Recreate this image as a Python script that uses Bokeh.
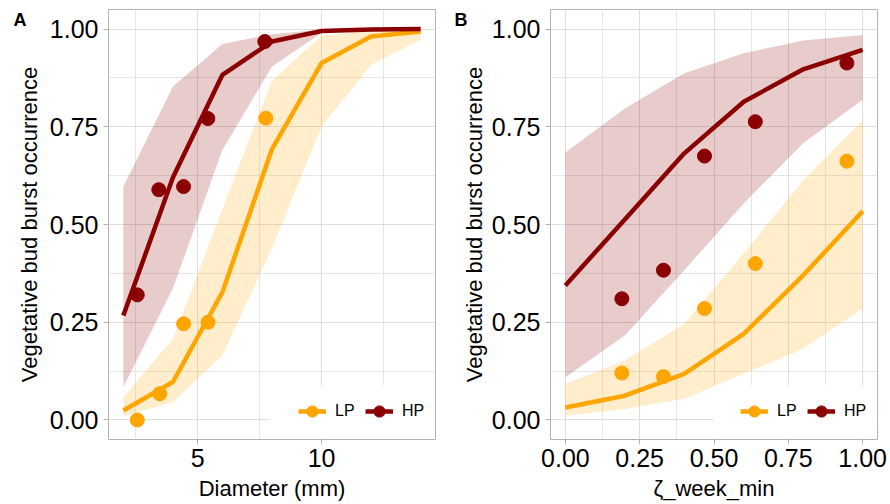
import math
from bokeh.plotting import figure
from bokeh.models import (Range1d, FixedTicker, NumeralTickFormatter, Label,
                          Legend, LegendItem, BoxAnnotation)
from bokeh.layouts import row
from bokeh.embed import file_html
from bokeh.resources import INLINE

FONT = "Liberation Sans"
HP_COLOR = "#8B0000"
LP_COLOR = "#FFA500"

# ---------------- Panel A : Diameter (mm) ----------------
A_x = [2, 4, 6, 8, 10, 12, 14]
A_LP_fit = [0.024, 0.097, 0.327, 0.693, 0.913, 0.981, 0.994]
A_LP_lo = [0.011, 0.045, 0.165, 0.44, 0.75, 0.908, 0.973]
A_LP_hi = [0.058, 0.207, 0.54, 0.868, 0.983, 0.997, 0.999]
A_HP_fit = [0.267, 0.62, 0.883, 0.968, 0.995, 0.999, 1.0]
A_HP_lo = [0.084, 0.336, 0.691, 0.904, 0.99, 0.999, 1.0]
A_HP_hi = [0.597, 0.853, 0.962, 0.987, 0.999, 1.0, 1.0]
A_LP_pt_x = [2.56, 3.47, 4.43, 5.42, 7.75]
A_LP_pt_y = [0.0, 0.067, 0.246, 0.25, 0.772]
A_HP_pt_x = [2.56, 3.43, 4.43, 5.41, 7.71]
A_HP_pt_y = [0.32, 0.589, 0.597, 0.771, 0.968]

# ---------------- Panel B : zeta_week_min ----------------
B_x = [0.0, 0.2, 0.4, 0.6, 0.8, 1.0]
B_LP_fit = [0.032, 0.062, 0.118, 0.22, 0.37, 0.534]
B_LP_lo = [0.011, 0.028, 0.054, 0.118, 0.182, 0.285]
B_LP_hi = [0.092, 0.152, 0.246, 0.426, 0.613, 0.767]
B_HP_fit = [0.344, 0.513, 0.682, 0.814, 0.897, 0.947]
B_HP_lo = [0.109, 0.216, 0.383, 0.554, 0.708, 0.819]
B_HP_hi = [0.684, 0.797, 0.887, 0.938, 0.971, 0.985]
B_pt_x = [0.19, 0.33, 0.468, 0.639, 0.947]
B_LP_pt_y = [0.12, 0.111, 0.285, 0.40, 0.662]
B_HP_pt_y = [0.31, 0.383, 0.675, 0.763, 0.913]

Y_TICKS = [0.0, 0.25, 0.5, 0.75, 1.0]
Y_MINOR = [0.125, 0.375, 0.625, 0.875]
A_TICKS = [5, 10]
A_MINOR = [2.5, 7.5, 12.5]
B_TICKS = [0.0, 0.25, 0.5, 0.75, 1.0]
B_MINOR = [0.125, 0.375, 0.625, 0.875]

Y_TITLE = "Vegetative bud burst occurrence"


def panel(letter, letter_x, ytitle_standoff, xtitle, xr, xticks, xminor, xfmt,
          xgrid, series, box_left, width, min_left, min_right):
    p = figure(width=width, height=504, x_range=Range1d(*xr),
               y_range=Range1d(-0.05, 1.05), output_backend="svg",
               toolbar_location=None, min_border_left=min_left,
               min_border_right=min_right, min_border_top=9,
               min_border_bottom=65)
    p.background_fill_color = "white"
    p.border_fill_color = "white"
    p.outline_line_color = "#B3B3B3"
    p.outline_line_width = 1

    for ax, ticks, minor, fmt in ((p.xaxis[0], xticks, xminor, xfmt),
                                  (p.yaxis[0], Y_TICKS, Y_MINOR, "0.00")):
        ax.ticker = FixedTicker(ticks=ticks, minor_ticks=minor)
        ax.formatter = NumeralTickFormatter(format=fmt)
        ax.axis_line_color = None
        ax.major_tick_line_color = "#B3B3B3"
        ax.major_tick_out = 5
        ax.major_tick_in = 0
        ax.minor_tick_line_color = None
        ax.major_label_text_font = FONT
        ax.major_label_text_font_size = "25px"
        ax.major_label_text_color = "#000000"
        ax.axis_label_text_font = FONT
        ax.axis_label_text_font_style = "normal"
        ax.axis_label_text_color = "#000000"
        ax.axis_label_text_font_size = "22px"
    p.xaxis[0].major_label_standoff = 4
    p.yaxis[0].major_label_standoff = 5
    p.xaxis[0].axis_label = xtitle
    p.xaxis[0].axis_label_standoff = 6
    p.yaxis[0].axis_label = Y_TITLE
    p.yaxis[0].axis_label_standoff = ytitle_standoff

    for g in (p.xgrid[0], p.ygrid[0]):
        g.grid_line_color = "#DEDEDE"
        g.grid_line_width = 1
        g.minor_grid_line_color = "#E6E6E6"
        g.minor_grid_line_width = 1

    items = []
    for name, color, fit, lo, hi, px, py in series:
        p.varea(x=xgrid, y1=lo, y2=hi, fill_color=color, fill_alpha=0.2)
    for name, color, fit, lo, hi, px, py in series:
        lr = p.line(xgrid, fit, line_color=color, line_width=4.5)
        sr = p.scatter(px, py, size=14, fill_color=color, line_color=color,
                       marker="circle")
        items.append(LegendItem(label=name, renderers=[lr, sr]))

    # white legend key background
    dx = (xr[1] - xr[0]) / 327.0
    box = BoxAnnotation(left=box_left, right=xr[1] - dx, bottom=-0.047,
                        top=0.088, fill_color="white", fill_alpha=1.0,
                        line_alpha=0)
    p.add_layout(box)

    leg = Legend(items=items, orientation="horizontal", location=(185, 7))
    leg.background_fill_alpha = 0
    leg.border_line_alpha = 0
    leg.padding = 5
    leg.margin = 0
    leg.spacing = 10
    leg.glyph_width = 28
    leg.glyph_height = 32
    leg.label_standoff = 9
    leg.label_width = 20
    leg.label_text_font = FONT
    leg.label_text_font_size = "16px"
    leg.label_text_color = "#000000"
    p.add_layout(leg, "center")

    # panel letter, placed in the left side panel
    p.add_layout(Label(x=letter_x, y=420, x_units="screen", y_units="screen",
                       text=letter, text_align="left",
                       text_baseline="alphabetic", text_font=FONT,
                       text_font_size="18px", text_font_style="bold",
                       text_color="#000000"), "left")
    return p


pA = panel("A", 13, 5, "Diameter (mm)", (1.4, 14.6), A_TICKS, A_MINOR, "0",
           A_x,
           [("LP", LP_COLOR, A_LP_fit, A_LP_lo, A_LP_hi, A_LP_pt_x, A_LP_pt_y),
            ("HP", HP_COLOR, A_HP_fit, A_HP_lo, A_HP_hi, A_HP_pt_x, A_HP_pt_y)],
           box_left=7.915, width=445, min_left=108, min_right=10)

pB = panel("B", 9, 2, "\u03b6_week_min", (-0.05, 1.05), B_TICKS, B_MINOR,
           "0.00", B_x,
           [("LP", LP_COLOR, B_LP_fit, B_LP_lo, B_LP_hi, B_pt_x, B_LP_pt_y),
            ("HP", HP_COLOR, B_HP_fit, B_HP_lo, B_HP_hi, B_pt_x, B_HP_pt_y)],
           box_left=0.498, width=445, min_left=105, min_right=13)

layout = row(pA, pB)
open("out.html", "w").write(file_html(layout, INLINE))
